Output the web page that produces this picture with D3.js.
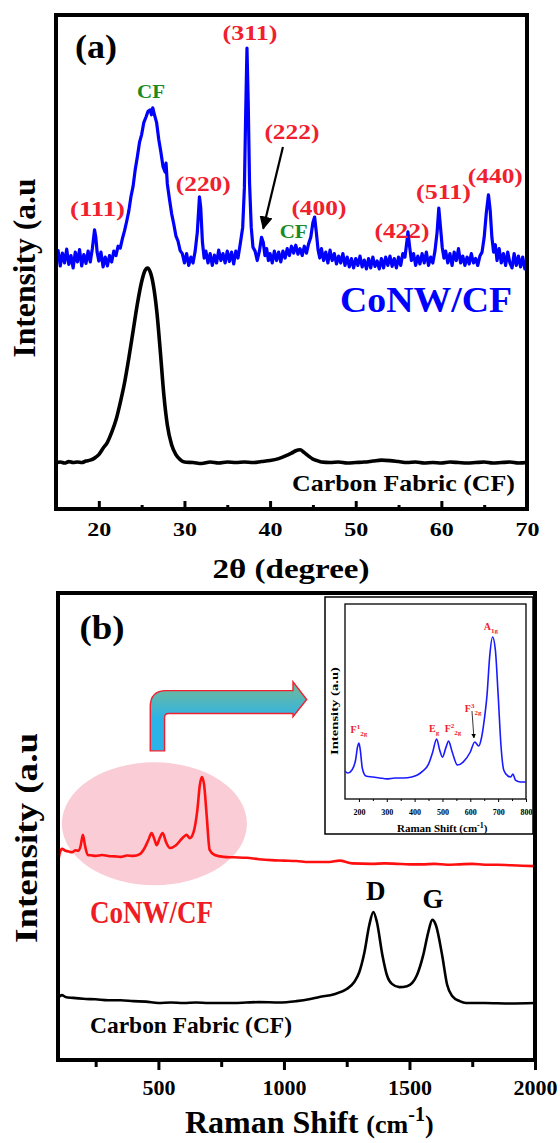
<!DOCTYPE html>
<html>
<head>
<meta charset="utf-8">
<script src="https://cdn.jsdelivr.net/npm/d3@7"></script>
<style>
  body { margin: 0; background: #fff; }
  svg { display: block; }
  svg text { font-family: "Liberation Serif", "Times New Roman", Times, serif; font-weight: bold; }
</style>
</head>
<body>
<svg id="chart" width="560" height="1143"></svg>
<script>
// ---- data ----
// (a) XRD, 2theta (deg) vs intensity (a.u., arbitrary 0-100 frame units)
const xrdCoNW = [
  [15,50.5],[15.25,52.3],[15.5,49.2],[15.75,51.8],[16,49.8],[16.25,52.6],[16.5,49.5],[16.75,51.3],[17,48.8],[17.25,52],
  [17.5,50],[17.75,52.5],[18,49.2],[18.25,51.5],[18.5,49.7],[18.75,52.2],[19,50],[19.25,52.8],[19.5,56.5],[19.65,55],
  [19.8,52],[20,50.2],[20.25,52],[20.5,49],[20.75,51],[21,49.2],[21.25,51.3],[21.5,50],[21.75,52.2],[22,51.3],
  [22.25,53.2],[22.5,52.8],[22.75,54.7],[23,56.3],[23.25,58.2],[23.5,60.3],[23.75,63.2],[24,65.3],[24.25,68.7],[24.5,71.3],
  [24.75,74.2],[25,75.8],[25.25,78.2],[25.5,79.3],[25.75,80.5],[26,80.8],[26.15,79.8],[26.3,81.2],[26.5,79.8],[26.75,78.2],
  [27,74.8],[27.25,72.2],[27.5,69.3],[27.75,68.2],[27.85,70],[28,65.8],[28.25,62.7],[28.5,59.8],[28.75,57.7],[29,55.3],
  [29.25,54.2],[29.5,52.3],[29.75,51.7],[30,49.8],[30.25,51.7],[30.5,49.3],[30.75,51],[31,49.8],[31.25,52.2],[31.5,56],
  [31.75,63.2],[31.9,61],[32.1,54],[32.3,50.8],[32.5,52.2],[32.75,49.8],[33,51.7],[33.25,49.3],[33.5,51.4],[33.75,49.8],
  [34,52.4],[34.25,50.3],[34.5,51.7],[34.75,49.8],[35,52.2],[35.25,50.1],[35.5,52],[35.75,49.6],[36,52.2],[36.25,50.8],
  [36.5,53.5],[36.8,57],[37,65],[37.15,80],[37.3,93.3],[37.45,82],[37.6,66],[37.8,57],[38,53],[38.25,52.2],
  [38.5,50.3],[38.75,52.2],[39,55],[39.2,54],[39.4,51.3],[39.6,52.7],[39.8,50.3],[40,51.7],[40.25,49.8],[40.5,52.2],
  [40.75,50.3],[41,52],[41.25,50],[41.5,52.2],[41.75,50.8],[42,52.7],[42.25,51.3],[42.5,53.2],[42.75,51.8],[43,53.4],
  [43.25,51.6],[43.5,52.7],[43.75,51.3],[44,53.2],[44.25,51.8],[44.5,53.7],[44.75,55],[45,58],[45.2,59.1],[45.4,56],
  [45.6,52.5],[45.8,50.8],[46,52.7],[46.25,50.3],[46.5,52],[46.75,49.8],[47,52.4],[47.25,50.3],[47.5,51.7],[47.75,49.6],
  [48,51.2],[48.25,49.8],[48.5,51.7],[48.75,49.3],[49,51],[49.25,49],[49.5,50.7],[49.75,48.8],[50,50.7],[50.25,49.3],
  [50.5,51.2],[50.75,49],[51,50.4],[51.25,48.6],[51.5,50.7],[51.75,48.8],[52,51],[52.25,49.1],[52.5,50.2],[52.75,48.6],
  [53,50.7],[53.25,48.8],[53.5,51],[53.75,49.3],[54,51.2],[54.25,49.1],[54.5,50.7],[54.75,48.8],[55,51],[55.25,49.3],
  [55.5,51.7],[55.75,51],[56,54.5],[56.1,56.1],[56.3,53],[56.5,50.3],[56.75,51.7],[57,49.3],[57.25,51.2],[57.5,49.6],
  [57.75,51.7],[58,49.8],[58.25,52],[58.5,49.3],[58.75,51],[59,49.8],[59.25,52.2],[59.5,56],[59.7,60.9],[59.9,57],
  [60.1,53],[60.3,50.8],[60.5,52.2],[60.75,49.8],[61,51.7],[61.25,49.3],[61.5,52],[61.75,50.3],[62,52.7],[62.25,49.8],
  [62.5,51.2],[62.75,49.3],[63,51],[63.25,49.6],[63.5,51.7],[63.75,49.8],[64,50.7],[64.25,49.3],[64.5,51.2],[64.75,52],
  [65,55],[65.25,60],[65.5,63.6],[65.7,60.5],[65.9,55],[66.1,52],[66.3,53.5],[66.5,50.3],[66.75,52.7],[67,49.8],
  [67.25,51.7],[67.5,49.3],[67.75,52],[68,49.8],[68.25,48.8],[68.5,51.7],[68.75,49.3],[69,51.2],[69.25,49],[69.5,51],
  [69.75,48.6],[70,49.3]
];
const xrdCF = [
  [15,9.3],[15.5,9.5],[16,9.3],[16.5,9.6],[17,9.4],[17.5,9.5],[18,9.4],[18.5,9.7],[19,9.9],[19.5,10.3],
  [20,11],[20.5,12.3],[21,13.5],[21.5,15.5],[22,18],[22.5,21.5],[23,25.5],[23.5,30.5],[24,36],[24.5,41.5],
  [25,46],[25.4,48.3],[25.7,48.8],[26,48],[26.4,45],[26.8,39.5],[27.2,31.5],[27.6,23],[28,17],[28.5,13],
  [29,11],[29.5,10],[30,9.5],[31,9.4],[32,9.2],[33,9.5],[34,9.3],[35,9.5],[36,9.4],[37,9.5],
  [38,9.4],[39,9.6],[40,9.8],[41,10.2],[42,10.9],[42.5,11.3],[43,11.8],[43.5,12],[44,11.4],[44.5,10.7],
  [45,10.1],[45.5,9.8],[46,9.5],[47,9.4],[48,9.5],[49,9.3],[50,9.4],[51,9.5],[52,9.7],[53,9.9],
  [54,9.8],[55,9.6],[56,9.4],[57,9.5],[58,9.3],[59,9.4],[60,9.3],[61,9.5],[62,9.4],[63,9.3],
  [64,9.4],[65,9.5],[66,9.3],[67,9.4],[68,9.5],[69,9.3],[70,9.4]
];
const xrdTicks = [20, 30, 40, 50, 60, 70];
const xrdMinorTicks = [25, 35, 45, 55, 65];
const xrdPeakLabels = [
  { text: "(111)", x: 19.85, y: 59.3, color: "red" },
  { text: "CF", x: 26.1, y: 83.2, color: "green" },
  { text: "(220)", x: 32.2, y: 64.4, color: "red" },
  { text: "(311)", x: 37.65, y: 94.9, color: "red" },
  { text: "(222)", x: 42.55, y: 74.9, color: "red" },
  { text: "CF", x: 42.75, y: 54.9, color: "green" },
  { text: "(400)", x: 45.7, y: 59.6, color: "red" },
  { text: "(422)", x: 55.4, y: 54.9, color: "red" },
  { text: "(511)", x: 60.25, y: 62.8, color: "red" },
  { text: "(440)", x: 66.3, y: 66.0, color: "red" }
];

// (b) Raman, shift (cm-1) vs intensity (a.u.)
const ramanCoNW = [
  [100,42.2],[108,44.5],[116,45.2],[130,44.8],[145,44.6],[156,44.5],[170,44.9],[180,44.8],[190,45.8],[199,48.2],
  [208,45.8],[219,43.9],[235,43.8],[250,43.7],[275,43.9],[300,43.7],[325,43.6],[350,43.5],[375,43.8],[400,43.7],
  [426,44.1],[445,45.4],[460,47.1],[473,48.6],[485,47.1],[493,46],[505,47.5],[517,48.6],[530,46.7],[545,45.4],
  [570,46],[595,47.5],[612,48.2],[625,47.5],[640,48.8],[655,53.5],[665,58.9],[673,60.6],[682,58.9],[692,52.5],
  [704,45],[724,43.9],[760,43.5],[800,43.4],[851,43.3],[900,43],[950,42.8],[1000,42.7],[1050,42.6],[1100,42.4],
  [1181,42.4],[1221,42.7],[1272,42.1],[1350,42],[1400,42.1],[1450,42],[1500,41.9],[1550,41.9],[1600,42],[1650,41.8],
  [1700,41.9],[1750,42],[1800,41.8],[1850,41.8],[1900,41.7],[1950,41.6],[2000,41.5]
];
const ramanCF = [
  [100,13.5],[105,13.6],[115,13.9],[130,13.5],[160,13.3],[200,13.1],[250,13],[300,12.8],[350,12.8],[400,12.6],
  [450,12.5],[500,12.2],[550,12.3],[600,12.2],[650,12.3],[700,12.2],[750,12.2],[800,12.2],[850,12.3],[900,12.4],
  [982,12.3],[1050,12.6],[1100,13],[1141,13.5],[1200,14.1],[1250,15.2],[1280,16.7],[1300,18.8],[1320,22.9],[1340,28.9],
  [1356,31.7],[1370,29.6],[1392,22.5],[1410,18.2],[1430,16.3],[1460,15.6],[1490,15.8],[1511,16.5],[1530,18.2],[1555,22.5],
  [1575,27.4],[1591,30],[1605,28.9],[1630,22.5],[1650,16.1],[1670,13.7],[1700,12.6],[1725,12.2],[1800,12.2],[1900,12.1],
  [2000,12.2]
];
const ramanTicks = [500, 1000, 1500, 2000];
const ramanMinorTicks = [250, 750, 1250, 1750];
const ramanPeakLabels = [
  { text: "D", x: 1366, y: 34.3 },
  { text: "G", x: 1594, y: 32.5 }
];

// (b) inset: CoNW Raman, 150-800 cm-1
const insetRaman = [
  [150,14.4],[160,13.3],[175,14.9],[188,20],[195,26.7],[200,28.7],[205,25.1],[212,15.9],[225,11.8],[250,11.3],
  [275,10.8],[300,10.3],[330,10.8],[360,10.8],[390,11.3],[410,12.3],[430,14.4],[450,17.9],[465,24.1],[479,30.8],
  [490,25.1],[500,21.5],[512,26.2],[522,29.7],[535,24.1],[554,17.4],[575,19],[600,24.1],[616,29.2],[630,27.2],
  [640,31.3],[650,40.5],[660,53.3],[670,73.8],[680,83.1],[690,76.4],[700,53.3],[710,27.7],[720,14.9],[735,11.8],
  [745,11.3],[753,12.8],[762,9.7],[780,8.7],[800,8.7]
];
const insetTicks = [200, 300, 400, 500, 600, 700, 800];
const insetMinorTicks = [250, 350, 450, 550, 650, 750];
const insetModeLabels = [
  { base: "F", sup: "1", sub: "2g", x: 200, y: 33.8 },
  { base: "E", sup: "", sub: "g", x: 470, y: 34.4 },
  { base: "F", sup: "2", sub: "2g", x: 538, y: 34.4 },
  { base: "F", sup: "3", sub: "2g", x: 610, y: 44.6 },
  { base: "A", sup: "", sub: "1g", x: 674, y: 86.7 }
];

// ---- drawing ----
const svg = d3.select("#chart");
const defs = svg.append("defs");

const txt = (g, s, x, y, o = {}) => {
  const t = g.append("text")
    .attr("x", x).attr("y", y)
    .style("font-size", (o.size || 16) + "px")
    .attr("fill", o.fill || "#000")
    .attr("text-anchor", o.anchor || "middle")
    .text(s);
  if (o.len) t.attr("textLength", o.len).attr("lengthAdjust", "spacingAndGlyphs");
  return t;
};

defs.append("marker").attr("id", "arrowA")
  .attr("viewBox", "0 0 10 10").attr("refX", 9).attr("refY", 5)
  .attr("markerWidth", 6).attr("markerHeight", 6).attr("orient", "auto")
  .append("path").attr("d", "M0,0 L10,5 L0,10 Z").attr("fill", "#000");

// ===== panel (a) =====
const A = { left: 56, right: 527, top: 15, bottom: 509 };
const xa = d3.scaleLinear().domain([15, 70]).range([A.left, A.right]);
const ya = d3.scaleLinear().domain([0, 100]).range([A.bottom, A.top]);
const ga = svg.append("g");

ga.append("path").datum(xrdCF)
  .attr("fill", "none").attr("stroke", "#000").attr("stroke-width", 3.6)
  .attr("stroke-linejoin", "round")
  .attr("d", d3.line().x(d => xa(d[0])).y(d => ya(d[1])).curve(d3.curveMonotoneX));

ga.append("path").datum(xrdCoNW)
  .attr("fill", "none").attr("stroke", "#0000ff").attr("stroke-width", 3.2)
  .attr("stroke-linejoin", "round")
  .attr("d", d3.line().x(d => xa(d[0])).y(d => ya(d[1])));

// axis (inward ticks)
const axA = ga.append("g").attr("transform", `translate(0,${A.bottom})`)
  .call(d3.axisBottom(xa).tickValues(xrdTicks).tickSizeInner(-8).tickSizeOuter(0).tickFormat(d3.format("d")));
axA.select(".domain").remove();
axA.selectAll("line").attr("stroke-width", 3);
axA.selectAll("text").attr("y", 27).attr("dy", null)
  .style("font-size", "19px")
  .attr("textLength", 24).attr("lengthAdjust", "spacingAndGlyphs").attr("fill", "#000");
const axAm = ga.append("g").attr("transform", `translate(0,${A.bottom})`)
  .call(d3.axisBottom(xa).tickValues(xrdMinorTicks).tickSizeInner(-4).tickSizeOuter(0).tickFormat(""));
axAm.select(".domain").remove();
axAm.selectAll("line").attr("stroke-width", 3);

ga.append("rect").attr("x", A.left).attr("y", A.top)
  .attr("width", A.right - A.left).attr("height", A.bottom - A.top)
  .attr("fill", "none").attr("stroke", "#000").attr("stroke-width", 4);

// peak labels
xrdPeakLabels.forEach(p => {
  const isCF = p.color === "green";
  txt(ga, p.text, xa(p.x), ya(p.y), {
    size: isCF ? 18 : 20,
    fill: isCF ? "#1b8a23" : "#f0202e",
    len: isCF ? 28 : 55
  });
});
// arrow to (222)
ga.append("line")
  .attr("x1", xa(41.5)).attr("y1", ya(73.3))
  .attr("x2", xa(39.2)).attr("y2", ya(56.8))
  .attr("stroke", "#000").attr("stroke-width", 2.2)
  .attr("marker-end", "url(#arrowA)");

txt(ga, "(a)", 96, 58, { size: 34, len: 42 });
txt(ga, "CoNW/CF", xa(68.25), ya(39.9), { size: 35, fill: "#0000ff", anchor: "end", len: 172 });
txt(ga, "Carbon Fabric (CF)", xa(68.6), ya(3.6), { size: 24, anchor: "end", len: 223 });
txt(ga, "2θ (degree)", 291, 578, { size: 27, len: 157 });
txt(ga, "Intensity (a.u", 0, 0, { size: 32, len: 179 })
  .attr("transform", "translate(35,268) rotate(-90)");

// ===== panel (b) =====
const B = { left: 58, right: 535, top: 593, bottom: 1060 };
const xb = d3.scaleLinear().domain([100, 2000]).range([B.left, B.right]);
const yb = d3.scaleLinear().domain([0, 100]).range([B.bottom, B.top]);
const gb = svg.append("g");

// highlight ellipse behind the CoNW trace
gb.append("ellipse")
  .attr("cx", xb(484)).attr("cy", yb(50.6))
  .attr("rx", 92.5).attr("ry", 61.5)
  .attr("fill", "#f9ccd6");

gb.append("path").datum(ramanCF)
  .attr("fill", "none").attr("stroke", "#000").attr("stroke-width", 2.6)
  .attr("d", d3.line().x(d => xb(d[0])).y(d => yb(d[1])).curve(d3.curveMonotoneX));

gb.append("path").datum(ramanCoNW)
  .attr("fill", "none").attr("stroke", "#ff1010").attr("stroke-width", 2.6)
  .attr("d", d3.line().x(d => xb(d[0])).y(d => yb(d[1])).curve(d3.curveMonotoneX));

// bent arrow pointing to inset
const grad = defs.append("linearGradient").attr("id", "arrowFill")
  .attr("gradientUnits", "userSpaceOnUse")
  .attr("x1", 0).attr("y1", yb(79.1)).attr("x2", 0).attr("y2", yb(73));
grad.append("stop").attr("offset", "0%").attr("stop-color", "#66b8a6");
grad.append("stop").attr("offset", "100%").attr("stop-color", "#2cb3e8");
{
  const vx0 = xb(467.5), vx1 = xb(524.5), vb = yb(66.2);
  const ht = yb(79.1), hb = yb(74.2), hx = xb(1036);
  const headT = yb(81), headB = yb(73.5), tipX = xb(1090.6), tipY = yb(77.2);
  const R = 16, r = 4;
  const d = `M${vx0},${vb} L${vx0},${ht + R} Q${vx0},${ht} ${vx0 + R},${ht} L${hx},${ht} L${hx},${headT} ` +
    `L${tipX},${tipY} L${hx},${headB} L${hx},${hb} L${vx1 + r},${hb} Q${vx1},${hb} ${vx1},${hb + r} L${vx1},${vb} Z`;
  gb.append("path").attr("d", d).attr("fill", "url(#arrowFill)")
    .attr("stroke", "#f02030").attr("stroke-width", 1.4).attr("stroke-linejoin", "miter");
}

// axis (outward ticks)
const axB = gb.append("g").attr("transform", `translate(0,${B.bottom})`)
  .call(d3.axisBottom(xb).tickValues(ramanTicks).tickSizeInner(10).tickSizeOuter(0).tickFormat(d3.format("d")));
axB.select(".domain").remove();
axB.selectAll("line").attr("stroke-width", 3);
axB.selectAll("text").attr("y", 35).attr("dy", null)
  .style("font-size", "22px").attr("fill", "#000");
const axBm = gb.append("g").attr("transform", `translate(0,${B.bottom})`)
  .call(d3.axisBottom(xb).tickValues(ramanMinorTicks).tickSizeInner(7).tickSizeOuter(0).tickFormat(""));
axBm.select(".domain").remove();
axBm.selectAll("line").attr("stroke-width", 3);

gb.append("rect").attr("x", B.left).attr("y", B.top)
  .attr("width", B.right - B.left).attr("height", B.bottom - B.top)
  .attr("fill", "none").attr("stroke", "#000").attr("stroke-width", 4);

ramanPeakLabels.forEach(p => txt(gb, p.text, xb(p.x), yb(p.y), { size: 27 }));
txt(gb, "(b)", 102, 639, { size: 34, len: 45 });
txt(gb, "CoNW/CF", xb(227.5), yb(29.3), { size: 31, fill: "#ee1c25", anchor: "start", len: 123 });
txt(gb, "Carbon Fabric (CF)", xb(227.5), yb(5.8), { size: 24, anchor: "start", len: 202 });
txt(gb, "Intensity (a.u", 0, 0, { size: 32, len: 210 })
  .attr("transform", "translate(37,838) rotate(-90)");
{
  const t = txt(gb, "", 185, 1133, { size: 32, anchor: "start" });
  t.append("tspan").text("Raman Shift ");
  t.append("tspan").style("font-size", "26px").text("(cm");
  t.append("tspan").style("font-size", "20px").attr("dy", -12).text("-1");
  t.append("tspan").style("font-size", "26px").attr("dy", 12).text(")");
}

// ===== inset =====
const I = { left: 345, right: 526, top: 604, bottom: 799 };
const xi = d3.scaleLinear().domain([150, 800]).range([I.left, I.right]);
const yi = d3.scaleLinear().domain([0, 100]).range([I.bottom, I.top]);
const gi = svg.append("g");

gi.append("rect").attr("x", 325).attr("y", 597).attr("width", 208).attr("height", 237)
  .attr("fill", "#fff").attr("stroke", "#000").attr("stroke-width", 1.5);
gi.append("rect").attr("x", I.left).attr("y", I.top)
  .attr("width", I.right - I.left).attr("height", I.bottom - I.top)
  .attr("fill", "none").attr("stroke", "#000").attr("stroke-width", 1.3);

gi.append("path").datum(insetRaman)
  .attr("fill", "none").attr("stroke", "#1a1aff").attr("stroke-width", 1.6)
  .attr("d", d3.line().x(d => xi(d[0])).y(d => yi(d[1])).curve(d3.curveMonotoneX));

const axI = gi.append("g").attr("transform", `translate(0,${I.bottom})`)
  .call(d3.axisBottom(xi).tickValues(insetTicks).tickSizeInner(3).tickSizeOuter(0).tickFormat(d3.format("d")));
axI.select(".domain").remove();
axI.selectAll("line").attr("stroke-width", 1);
axI.selectAll("text").attr("y", 16).attr("dy", null)
  .style("font-size", "8px").attr("fill", "#000");
const axIm = gi.append("g").attr("transform", `translate(0,${I.bottom})`)
  .call(d3.axisBottom(xi).tickValues(insetMinorTicks).tickSizeInner(2).tickSizeOuter(0).tickFormat(""));
axIm.select(".domain").remove();
axIm.selectAll("line").attr("stroke-width", 1);

insetModeLabels.forEach(m => {
  const t = txt(gi, "", xi(m.x), yi(m.y), { size: 10, fill: "#f0202e" });
  t.append("tspan").text(m.base);
  if (m.sup) t.append("tspan").style("font-size", "7px").attr("dy", -4).text(m.sup);
  t.append("tspan").style("font-size", "7px").attr("dy", m.sup ? 7 : 3).text(m.sub);
});
gi.append("line")
  .attr("x1", xi(606)).attr("y1", yi(45.1))
  .attr("x2", xi(613)).attr("y2", yi(31.3))
  .attr("stroke", "#000").attr("stroke-width", 0.8)
  .attr("marker-end", "url(#arrowA)");

{
  const t = txt(gi, "", 397, 832, { size: 11, anchor: "start" });
  t.append("tspan").text("Raman Shift (cm");
  t.append("tspan").style("font-size", "8px").attr("dy", -4).text("-1");
  t.append("tspan").attr("dy", 4).text(")");
}
txt(gi, "Intensity (a.u)", 0, 0, { size: 11, len: 88 })
  .attr("transform", "translate(338,711) rotate(-90)");
</script>
</body>
</html>
